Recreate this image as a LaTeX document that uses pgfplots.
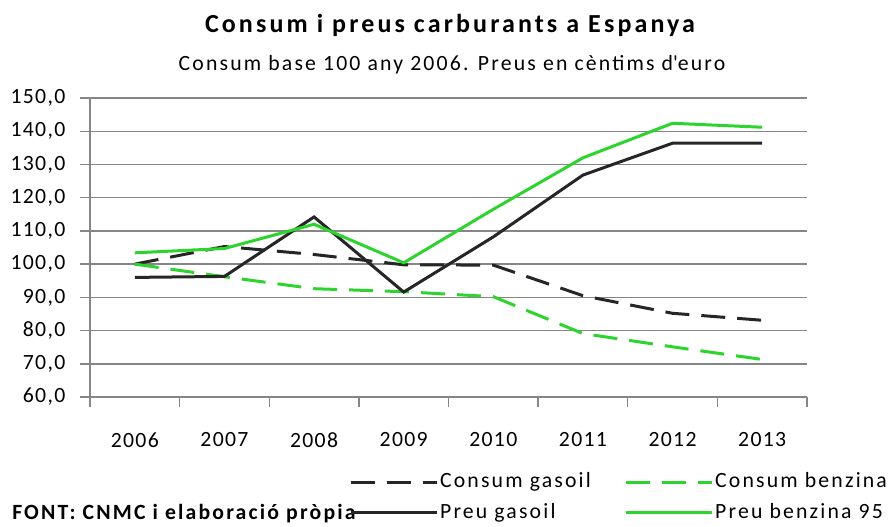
\documentclass[border=0pt]{standalone}
\usepackage{fontspec}
\setmainfont{Carlito}[LetterSpace=6]
\newfontfamily\wide{Carlito}[LetterSpace=10]
\newfontfamily\widetitle{Carlito}[LetterSpace=12]
\usepackage{pgfplots}
\pgfplotsset{compat=1.18}

\definecolor{gasoil}{RGB}{38,38,38}
\definecolor{benzina}{RGB}{45,212,45}
\definecolor{gridgray}{RGB}{134,134,134}
\newcommand\txt{\fontsize{16.3}{19}\selectfont}

\begin{document}
\begin{tikzpicture}
\begin{scope}[x=0.75pt,y=-0.75pt]
\path (0,0) rectangle (893,526);
\node[anchor=base,inner sep=0pt,font=\widetitle\fontsize{19.5}{23}\selectfont\bfseries] at (450,32) {Consum i preus carburants a Espanya};
\node[anchor=base,inner sep=0pt,font=\wide\txt] at (452,70) {Consum base 100 any 2006. Preus en cèntims d\textquotesingle euro};
\node[anchor=base west,inner sep=0pt,font=\wide\txt\bfseries] at (12,519) {FONT: CNMC i elaboració pròpia};
\end{scope}
\begin{axis}[
  at={(67.5pt,-297.75pt)}, anchor=south west,
  scale only axis, width=537.75pt, height=224.25pt,
  xmin=-0.5, xmax=7.5, ymin=60, ymax=150,
  axis lines*=left,
  axis line style={-,gridgray,line width=1.1pt},
  tick style={gridgray,line width=1.1pt},
  tick align=outside, major tick length=7.5pt,
  xtick={-0.5,0.5,...,7.5}, xticklabels={},
  extra x ticks={0,1,2,3,4,5,6,7},
  extra x tick labels={2006,2007,2008,2009,2010,2011,2012,2013},
  extra x tick style={major tick length=0pt},
  ytick={60,70,...,150},
  ymajorgrids, grid style={gridgray,line width=1.1pt},
  ticklabel style={font=\txt},
  xticklabel style={yshift=-23pt},
  yticklabel style={xshift=-7.5pt,/pgf/number format/.cd,fixed,fixed zerofill,precision=1,use comma,assume math mode=true},
  legend columns=2,
  legend cell align=left,
  legend style={at={(0.361,-0.244)},anchor=north west,draw=none,fill=none,font=\wide\txt,
    inner sep=0pt,nodes={inner sep=1pt,text height=12pt,text depth=4pt},row sep=5pt,
    /tikz/every even column/.append style={column sep=24pt}},
]
\addplot[gasoil,line width=2.25pt,dash pattern=on 18pt off 9pt,
  legend image code/.code={\path (0pt,0pt) -- (65pt,0pt);
    \draw[gasoil,line width=2.25pt,dash pattern=on 18pt off 9pt] (0pt,0pt) -- (48.75pt,0pt);
    \fill[gasoil,draw=none] (57.5pt,-0.8pt) rectangle (59.1pt,0.8pt);}]
  coordinates {(0,100.0)(1,105.3)(2,102.9)(3,99.8)(4,99.7)(5,90.5)(6,85.2)(7,83.1)};
\addlegendentry{Consum gasoil}
\addplot[benzina,line width=2.25pt,dash pattern=on 18pt off 9pt,
  legend image code/.code={\path (0pt,0pt) -- (65pt,0pt);
    \draw[benzina,line width=2.25pt,dash pattern=on 18pt off 9pt] (0pt,0pt) -- (48.75pt,0pt);
    \fill[benzina,draw=none] (57.5pt,-0.8pt) rectangle (59.1pt,0.8pt);}]
  coordinates {(0,100.0)(1,96.2)(2,92.6)(3,91.7)(4,90.2)(5,79.1)(6,75.1)(7,71.3)};
\addlegendentry{Consum benzina}
\addplot[gasoil,line width=2.25pt,
  legend image code/.code={\path (0pt,0pt) -- (65pt,0pt);
    \draw[gasoil,line width=2.25pt] (0pt,0pt) -- (63pt,0pt);}]
  coordinates {(0,96.0)(1,96.3)(2,114.2)(3,91.6)(4,108.2)(5,126.8)(6,136.4)(7,136.4)};
\addlegendentry{Preu gasoil}
\addplot[benzina,line width=2.25pt,
  legend image code/.code={\path (0pt,0pt) -- (65pt,0pt);
    \draw[benzina,line width=2.25pt] (0pt,0pt) -- (58pt,0pt);}]
  coordinates {(0,103.4)(1,104.7)(2,112.0)(3,100.4)(4,116.5)(5,132.0)(6,142.4)(7,141.2)};
\addlegendentry{Preu benzina 95}
\end{axis}
\end{tikzpicture}
\end{document}
